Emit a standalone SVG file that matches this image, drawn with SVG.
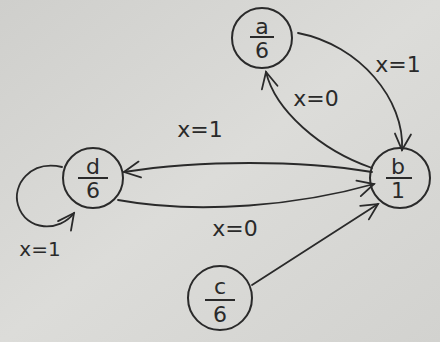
<svg xmlns="http://www.w3.org/2000/svg" width="440" height="342" viewBox="0 0 440 342">
<defs>
<linearGradient id="bg" x1="0" y1="0" x2="1" y2="1">
<stop offset="0" stop-color="#cfcfcc"/>
<stop offset="0.5" stop-color="#dcdcd9"/>
<stop offset="1" stop-color="#d2d2cf"/>
</linearGradient>
<marker id="arr" viewBox="0 0 20 20" refX="18" refY="10" markerWidth="20" markerHeight="20" markerUnits="userSpaceOnUse" orient="auto">
<path d="M2,2 L18,10 L2,18" fill="none" stroke="#2a2a2a" stroke-width="1.8" stroke-linecap="round"/>
</marker>
<style>
.n{fill:none;stroke:#2a2a2a;stroke-width:2}
.e{fill:none;stroke:#2a2a2a;stroke-width:1.8;stroke-linecap:round}
.t{font-family:"DejaVu Sans","Liberation Sans",sans-serif;fill:#2a2a2a;text-anchor:middle}
.bar{stroke:#2a2a2a;stroke-width:2}
</style>
</defs>
<rect width="440" height="342" fill="url(#bg)"/>
<g id="connectors">
<path class="e" d="M298,33 C360,45 405,100 402,150" marker-end="url(#arr)"/>
<path class="e" d="M372,168 C320,150 275,110 266,72" marker-end="url(#arr)"/>
<path class="e" d="M372,172 C300,160 200,160 124,172" marker-end="url(#arr)"/>
<path class="e" d="M118,200 C200,215 300,205 374,184" marker-end="url(#arr)"/>
<path class="e" d="M252,285 L378,204" marker-end="url(#arr)"/>
<path class="e" d="M62,167 C30,160 12,185 18,205 C26,232 60,232 74,213" marker-end="url(#arr)"/>
<text class="t" x="398" y="72" font-size="22">x=1</text>
<text class="t" x="316" y="106" font-size="22">x=0</text>
<text class="t" x="200" y="137" font-size="22">x=1</text>
<text class="t" x="235" y="236" font-size="22">x=0</text>
<text class="t" x="40" y="256" font-size="20" fill="#555">x=1</text>
</g>
<g id="a">
<circle class="n" cx="262" cy="38" r="30"/>
<text class="t" x="262" y="34" font-size="22">a</text>
<line class="bar" x1="250" y1="37" x2="274" y2="37"/>
<text class="t" x="262" y="58" font-size="22">6</text>
</g>
<g id="b">
<circle class="n" cx="400" cy="178" r="30"/>
<text class="t" x="398" y="174" font-size="22">b</text>
<line class="bar" x1="386" y1="178" x2="412" y2="178"/>
<text class="t" x="398" y="198" font-size="22">1</text>
</g>
<g id="d">
<circle class="n" cx="93" cy="178" r="30"/>
<text class="t" x="93" y="174" font-size="22">d</text>
<line class="bar" x1="78" y1="178" x2="108" y2="178"/>
<text class="t" x="93" y="198" font-size="22">6</text>
</g>
<g id="c">
<circle class="n" cx="220" cy="298" r="32"/>
<text class="t" x="220" y="294" font-size="22">c</text>
<line class="bar" x1="205" y1="300" x2="235" y2="300"/>
<text class="t" x="220" y="322" font-size="22">6</text>
</g>
</svg>
